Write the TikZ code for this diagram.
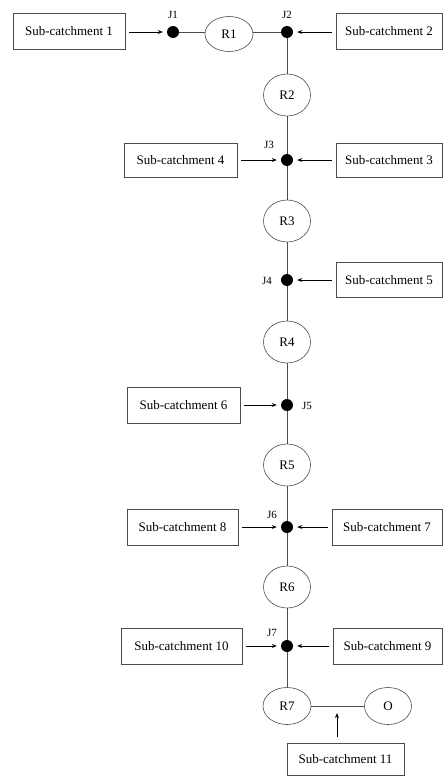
\documentclass[tikz,border=0pt]{standalone}
\usepackage{fontspec}
\setmainfont{Liberation Serif}
\usetikzlibrary{shapes.geometric,arrows.meta}

\begin{document}
\begin{tikzpicture}[x=1pt,y=-1pt,
    catch/.style={draw=black!70,line width=0.6pt,minimum height=35pt,inner sep=0pt,font=\fontsize{13}{15}\selectfont},
    reach/.style={draw=black!70,line width=0.6pt,ellipse,minimum width=47pt,minimum height=42pt,inner sep=0pt,font=\fontsize{13}{15}\selectfont},
    junc/.style={circle,fill=black,inner sep=0pt,minimum size=12pt},
    jlabel/.style={font=\fontsize{11}{13}\selectfont,inner sep=0pt}]
  \useasboundingbox (0,0) rectangle (443,776);
  \draw
    (69,31) node[catch,minimum width=112pt,minimum height=36pt] (S1){Sub-catchment 1}
    (389,31) node[catch,minimum width=106pt,minimum height=36pt] (S2){Sub-catchment 2}
    (389,160) node[catch,minimum width=106pt,minimum height=34pt] (S3){Sub-catchment 3}
    (180.5,160) node[catch,minimum width=113pt,minimum height=34pt] (S4){Sub-catchment 4}
    (389,280) node[catch,minimum width=106pt] (S5){Sub-catchment 5}
    (183.5,405) node[catch,minimum width=113pt,minimum height=36pt] (S6){Sub-catchment 6}
    (387,527) node[catch,minimum width=110pt,minimum height=36pt] (S7){Sub-catchment 7}
    (182.5,527) node[catch,minimum width=111pt,minimum height=36pt] (S8){Sub-catchment 8}
    (387.5,646) node[catch,minimum width=109pt,minimum height=36pt] (S9){Sub-catchment 9}
    (181.5,646) node[catch,minimum width=121pt,minimum height=36pt] (S10){Sub-catchment 10}
    (345.5,759) node[catch,minimum width=117pt,minimum height=32pt] (S11){Sub-catchment 11};
  \draw
    (173,32) node[junc] (J1){}
    (287,32) node[junc] (J2){}
    (287,160) node[junc] (J3){}
    (287,280) node[junc] (J4){}
    (287,405) node[junc] (J5){}
    (287,527) node[junc] (J6){}
    (287,646) node[junc] (J7){}
    (173,15) node[jlabel] (L1){J1}
    (287,15) node[jlabel] (L2){J2}
    (269,145) node[jlabel] (L3){J3}
    (267,281) node[jlabel] (L4){J4}
    (307,406) node[jlabel] (L5){J5}
    (272,515) node[jlabel] (L6){J6}
    (272,633) node[jlabel] (L7){J7};
  \draw
    (229,34) node[reach,minimum width=48pt,minimum height=35pt] (R1){R1}
    (287,95) node[reach] (R2){R2}
    (287,221) node[reach] (R3){R3}
    (287,342) node[reach] (R4){R4}
    (287,465) node[reach] (R5){R5}
    (287,587) node[reach] (R6){R6}
    (287,706) node[reach,minimum width=48pt,minimum height=37pt] (R7){R7}
    (388,706) node[reach,minimum width=47pt,minimum height=37pt] (O){O}
    (337,706) coordinate (c11);
  \begin{scope}[draw=black!70,line width=0.6pt]
    \draw (J1) to (J1 -| R1.west);
    \draw (R1.east |- J2) to (J2);
    \draw (J2) to (R2);
    \draw (R2) to (J3);
    \draw (J3) to (R3);
    \draw (R3) to (J4);
    \draw (J4) to (R4);
    \draw (R4) to (J5);
    \draw (J5) to (R5);
    \draw (R5) to (J6);
    \draw (J6) to (R6);
    \draw (R6) to (J7);
    \draw (J7) to (R7);
    \draw (R7) to (O);
  \end{scope}
  \begin{scope}[-{Stealth[length=5pt,width=4pt]},line width=0.9pt,shorten <=4pt,shorten >=4pt]
    \draw (S1.east |- J1) to (J1);
    \draw (S2.west |- J2) to (J2);
    \draw (S3) to (J3);
    \draw (S4) to (J3);
    \draw (S5) to (J4);
    \draw (S6) to (J5);
    \draw (S7) to (J6);
    \draw (S8) to (J6);
    \draw (S9) to (J7);
    \draw (S10) to (J7);
    \draw[shorten <=6pt,shorten >=7pt] (S11.north -| c11) to (c11);
  \end{scope}
\end{tikzpicture}
\end{document}
